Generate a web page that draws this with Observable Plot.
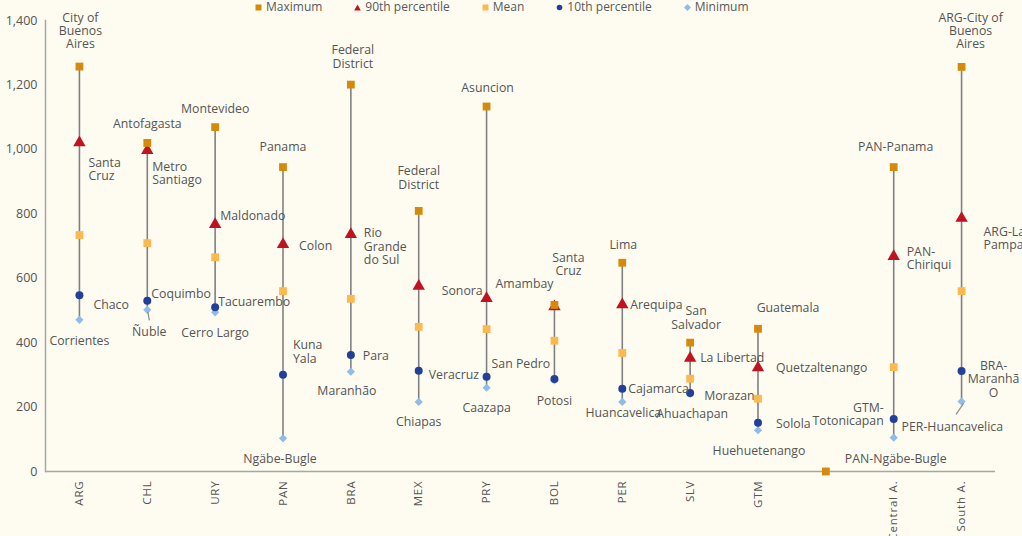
<!DOCTYPE html>
<html><head><meta charset="utf-8">
<script src="https://cdn.jsdelivr.net/npm/d3@7"></script>
<script src="https://cdn.jsdelivr.net/npm/@observablehq/plot@0.6"></script>
<style>
body{margin:0;background:#FEFCF1;font-family:"Open Sans",sans-serif;width:1022px;height:536px;overflow:hidden}
#legend{height:14px;display:flex;align-items:center;padding-left:255px;gap:32px;font-size:12px;color:#595959;line-height:14px}
#legend .item{display:flex;align-items:center;gap:4px;white-space:nowrap}
#legend svg{display:block}
</style></head><body>
<div id="legend"></div>
<div id="chart"></div>
<script>
// ---- data ----
const categories = ["ARG","CHL","URY","PAN","BRA","MEX","PRY","BOL","PER","SLV","GTM","","Central A.","South A."];
const maximum = [1257,1020,1069,945,1201,809,1133,517,648,400,443,0,945,1256];
const p90     = [1021,997,767,705,736,575,537,512,518,352,322,null,668,786];
const mean    = [734,709,665,560,536,449,442,406,368,288,226,null,324,560];
const p10     = [547,530,510,300,362,313,294,287,257,244,151,null,163,312];
const minimum = [471,502,494,103,310,216,260,283,216,241,128,0,105,217];
const yTicks  = [0,200,400,600,800,1000,1200,1400];

const maxLabels = ["City of\nBuenos\nAires","Antofagasta","Montevideo","Panama","Federal\nDistrict","Federal\nDistrict","Asuncion","Santa\nCruz","Lima","San\nSalvador","Guatemala","","PAN-Panama","ARG-City of\nBuenos\nAires"];
const p90Labels = ["Santa\nCruz","Metro\nSantiago","Maldonado","Colon","Rio\nGrande\ndo Sul","Sonora","Amambay","","Arequipa","La Libertad","Quetzaltenango","","PAN-\nChiriqui","ARG-La\nPampa"];
const p10Labels = ["Chaco","Coquimbo","Tacuarembo","Kuna\nYala","Para","Veracruz","San Pedro","","Cajamarca","Morazan","Solola","","GTM-\nTotonicapan","BRA-\nMaranhã\nO"];
const minLabels = ["Corrientes","Ñuble","Cerro Largo","Ngäbe-Bugle","Maranhão","Chiapas","Caazapa","Potosi","Huancavelica","Ahuachapan","Huehuetenango","","PAN-Ngäbe-Bugle","PER-Huancavelica"];

const seriesNames = ["Maximum","90th percentile","Mean","10th percentile","Minimum"];

// ---- layout / styling (pixel offsets of labels from their marker) ----
const maxPos = [[1,-36,"middle"],[0,-19,"middle"],[0,-18,"middle"],[0,-20,"middle"],[2,-28,"middle"],[0,-33,"middle"],[1,-19,"middle"],[14,-41,"middle"],[1,-18,"middle"],[6,-25,"middle"],[30,-21,"middle"],null,[2,-20,"middle"],[9,-36,"middle"]];
const p90Pos = [[9,27,"start"],[5,23,"start"],[5,-9,"start"],[16,1,"start"],[13,12,"start"],[23,4,"start"],[9,-15,"start"],null,[8,0,"start"],[10,0,"start"],[18,0,"start"],null,[13,2,"start"],[22,20,"start"]];
const p10Pos = [[14,9,"start"],[4,-7,"start"],[3,-5,"start"],[10,-23,"start"],[12,1,"start"],[10,4,"start"],[5,-13,"start"],null,[6,0,"start"],[14,3,"start"],[18,1,"start"],null,[-10,-5,"end"],[32,8,"middle"]];
const minPos = [[0,21,"middle"],[2,22,"middle"],[0,20,"middle"],[-3,20,"middle"],[-4,19,"middle"],[0,20,"middle"],[0,20,"middle"],[0,20,"middle"],[1,11,"middle"],[2,20,"middle"],[1,20,"middle"],null,[2,21,"middle"],[-60,25,"start"]];

const colors = {max:"#D68A0C", p90:"#C1121F", mean:"#FDB850", p10:"#22409A", min:"#8EBCEB"};
const textColor = "#555555";

const rows = categories.map((c,i)=>({c, max:maximum[i], p90:p90[i], mean:mean[i], p10:p10[i], min:minimum[i]}));

// ---- legend ----
const legendSyms = [
  `<svg width="7" height="7"><rect x="0.5" y="0.5" width="6" height="6" fill="${colors.max}"/></svg>`,
  `<svg width="7" height="7"><path d="M3.5,0.5L6.8,6.5L0.2,6.5Z" fill="${colors.p90}"/></svg>`,
  `<svg width="7" height="7"><rect x="0.5" y="0.5" width="6" height="6" fill="${colors.mean}"/></svg>`,
  `<svg width="7" height="7"><circle cx="3.5" cy="3.5" r="2.8" fill="${colors.p10}"/></svg>`,
  `<svg width="7" height="7"><path d="M3.5,0L7,3.5L3.5,7L0,3.5Z" fill="${colors.min}"/></svg>`
];
document.getElementById("legend").innerHTML = seriesNames.map((n,i)=>`<span class="item">${legendSyms[i]}<span>${n}</span></span>`).join("");

// ---- labels ----
const labelMarks = [];
const labelSets = [["max",maxLabels,maxPos],["p90",p90Labels,p90Pos],["p10",p10Labels,p10Pos],["min",minLabels,minPos]];
for (const [key, texts, pos] of labelSets) {
  texts.forEach((t,i)=>{
    if (!t || !pos[i]) return;
    const [dx,dy,anchor] = pos[i];
    labelMarks.push(Plot.text([rows[i]], {x:"c", y:key, text:()=>t, dx, dy, textAnchor:anchor, lineAnchor:"middle", lineHeight:1.08, fontSize:12.3, fill:textColor}));
  });
}

// leader lines (pixel offsets from the minimum marker)
const leaders = [["CHL",[1,2.5],[2.6,11]],["South A.",[2.5,2.2],[-5,13.2]]];
function leaderMark(index, scales) {
  const g = d3.create("svg:g");
  for (const [c,a,b] of leaders) {
    const r = rows.find(d=>d.c===c);
    const x = scales.x(c), y = scales.y(r.min);
    g.append("line").attr("x1",x+a[0]).attr("y1",y+a[1]).attr("x2",x+b[0]).attr("y2",y+b[1])
      .attr("stroke","#8c8c8c").attr("stroke-width",1.2);
  }
  return g.node();
}

const chart = Plot.plot({
  width:1022, height:522,
  marginTop:6, marginBottom:65, marginLeft:45, marginRight:27,
  x:{type:"point", domain:categories, padding:0.5, round:false},
  y:{domain:[0,1400]},
  style:{background:"transparent", color:textColor, fontFamily:"'Open Sans', sans-serif", overflow:"visible"},
  marks:[
    Plot.frame({anchor:"left", stroke:"#a6a6a6", strokeWidth:1.5}),
    Plot.ruleY([0], {stroke:"#a6a6a6", strokeWidth:1.5}),
    Plot.axisY({ticks:yTicks, tickFormat:d3.format(","), tickSize:0, tickPadding:8, fontSize:12.5, label:null}),
    Plot.axisX({tickRotate:-90, tickSize:0, tickPadding:9, fontSize:11.5, label:null}),
    Plot.ruleX(rows, {x:"c", y1:"min", y2:"max", stroke:"#808080", strokeWidth:1.6}),
    Plot.dot(rows, {x:"c", y:"min", symbol:"diamond2", r:3.7, fill:colors.min}),
    Plot.dot(rows, {x:"c", y:"p10", symbol:"circle", r:4, fill:colors.p10}),
    Plot.dot(rows, {x:"c", y:"mean", symbol:"square", r:4.4, fill:colors.mean}),
    Plot.dot(rows, {x:"c", y:"p90", symbol:"triangle", r:4.6, fill:colors.p90}),
    Plot.dot(rows, {x:"c", y:"max", symbol:"square", r:4.4, fill:colors.max}),
    leaderMark,
    ...labelMarks
  ]
});
chart.querySelectorAll("g[aria-label='x-axis tick label']").forEach(e=>e.style.letterSpacing="0.8px");
document.getElementById("chart").appendChild(chart);
</script>
</body></html>
